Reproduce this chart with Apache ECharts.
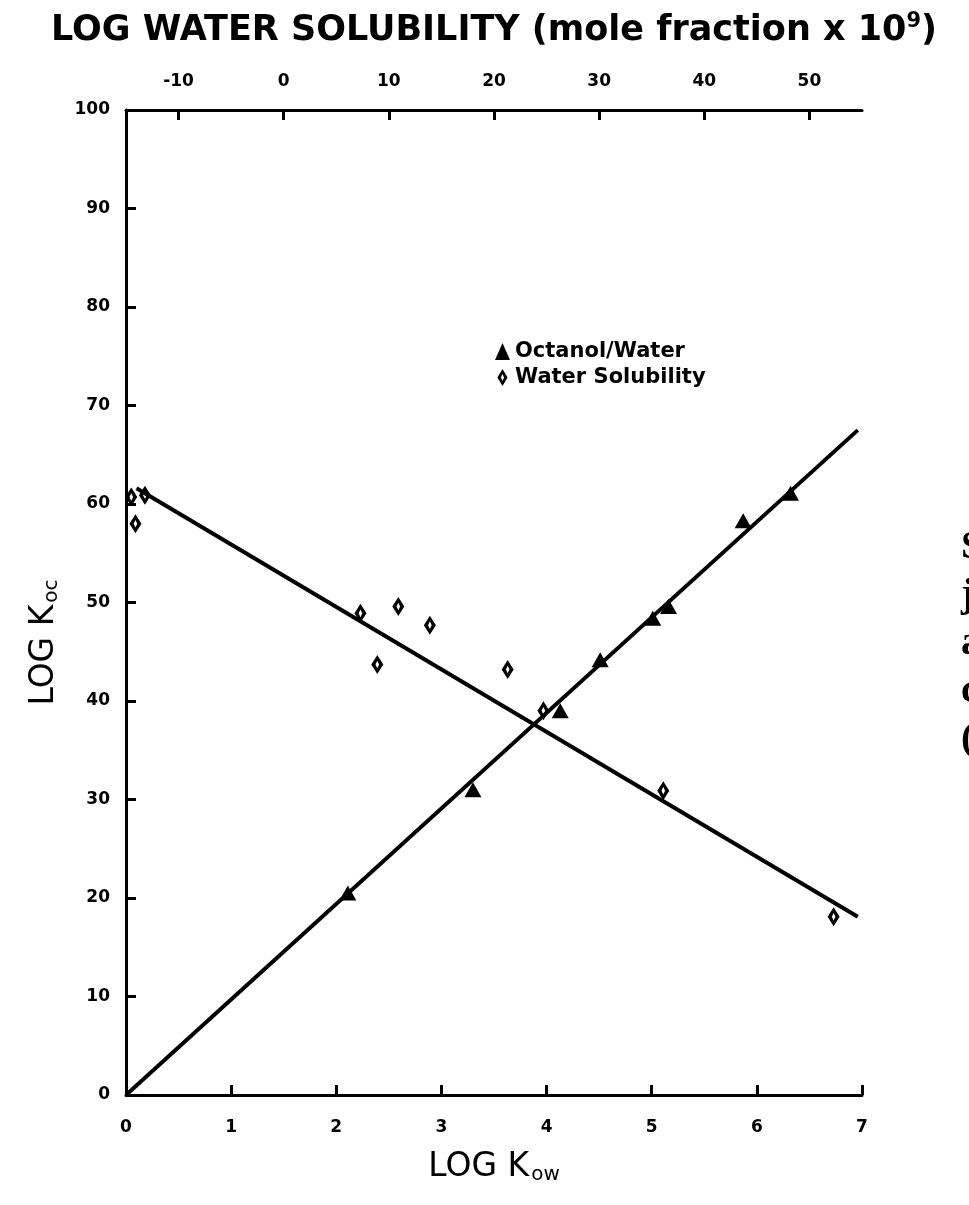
<!DOCTYPE html>
<html>
<head>
<meta charset="utf-8">
<script src="https://cdn.jsdelivr.net/npm/echarts@6/dist/echarts.min.js"></script>
<style>
  html, body { margin: 0; padding: 0; background: #fff; }
  #chart { width: 969px; height: 1205px; }
</style>
</head>
<body>
<div id="chart"></div>
<script>
// log Koc (x10) vs log Kow  -- filled triangles
const octanolPts = [[2.11, 20.5], [3.30, 31.0], [4.13, 39.0], [4.51, 44.2], [5.01, 48.4], [5.16, 49.6], [5.87, 58.3], [6.32, 61.1]];
// log Koc (x10) vs log water solubility (top axis units) -- open diamonds
const solubilityPts = [[-14.5, 60.7], [-13.2, 60.9], [-14.1, 58.0], [7.3, 48.9], [10.9, 49.6], [13.9, 47.7], [8.9, 43.7], [21.3, 43.2], [24.7, 39.0], [36.1, 30.9], [52.3, 18.1]];
// fitted lines
const octanolFit = [[0, 0], [6.96, 67.5]];
const solubilityFit = [[-14, 61.6], [54.6, 18.1]];
const solTicks = [-10, 0, 10, 20, 30, 40, 50];

const FONT = "DejaVu Sans";
const lbl = { color: "#000", fontFamily: FONT, fontWeight: "bold", fontSize: 17 };
// diamond with a hole, like the hand drawn marker
const ringDiamond = "path://M6,0 L12,10 L6,20 L0,10 Z M6,6 L4.2,10 L6,14 L7.8,10 Z";

let dom = echarts.init(document.getElementById("chart"));
let option = {
  backgroundColor: "#fff",
  animation: false,
  grid: { left: 126, right: 107, top: 110, bottom: 110 },
  legend: {
    orient: "vertical",
    left: 490,
    top: 336,
    itemGap: 5,
    itemWidth: 15,
    itemHeight: 17,
    textStyle: { color: "#000", fontFamily: FONT, fontWeight: "bold", fontSize: 21 },
    data: [
      { name: "Octanol/Water", icon: "triangle" },
      { name: "Water Solubility", icon: ringDiamond },
    ],
  },
  xAxis: [
    {
      type: "value",
      min: 0,
      max: 7,
      interval: 1,
      position: "bottom",
      name: "{a|LOG K}{b|ow}",
      nameLocation: "middle",
      nameGap: 54,
      nameTextStyle: {
        rich: {
          a: { fontFamily: FONT, fontSize: 33, color: "#000" },
          b: { fontFamily: FONT, fontSize: 20, color: "#000", padding: [16, 0, 0, 2] },
        },
      },
      axisLine: { lineStyle: { color: "#000", width: 3 } },
      axisTick: { inside: true, length: 10, lineStyle: { color: "#000", width: 3 } },
      axisLabel: Object.assign({ margin: 24 }, lbl),
      splitLine: { show: false },
    },
    {
      type: "value",
      min: -15,
      max: 55,
      position: "top",
      name: "{t|LOG WATER SOLUBILITY (mole fraction x 10}{s|9}{t|)}",
      nameLocation: "middle",
      nameGap: 60,
      nameTextStyle: {
        rich: {
          t: { fontFamily: FONT, fontWeight: "bold", fontSize: 35, color: "#000" },
          s: { fontFamily: FONT, fontWeight: "bold", fontSize: 21, color: "#000", padding: [0, 0, 18, 0] },
        },
      },
      axisLine: { lineStyle: { color: "#000", width: 3 } },
      axisTick: { inside: true, length: 10, customValues: solTicks, lineStyle: { color: "#000", width: 3 } },
      axisLabel: Object.assign({ margin: 20, customValues: solTicks }, lbl),
      splitLine: { show: false },
    },
  ],
  yAxis: {
    type: "value",
    min: 0,
    max: 100,
    interval: 10,
    name: "{a|LOG K}{b|oc}",
    nameLocation: "middle",
    nameRotate: 90,
    nameGap: 64,
    nameTextStyle: {
      padding: [0, 80, 0, 0],
      rich: {
        a: { fontFamily: FONT, fontSize: 33, color: "#000" },
        b: { fontFamily: FONT, fontSize: 20, color: "#000", padding: [16, 0, 0, 2] },
      },
    },
    axisLine: { lineStyle: { color: "#000", width: 3 } },
    axisTick: { inside: true, length: 10, lineStyle: { color: "#000", width: 3 } },
    axisLabel: Object.assign({ margin: 16 }, lbl),
    splitLine: { show: false },
  },
  graphic: [
    // cut-off text at the right page edge
    { type: "text", left: 961, top: 528, style: { text: "S", font: "bold 40px 'Liberation Serif'", fill: "#000" } },
    { type: "text", left: 961, top: 576, style: { text: "j", font: "bold 40px 'Liberation Serif'", fill: "#000" } },
    { type: "text", left: 961, top: 624, style: { text: "a", font: "bold 40px 'Liberation Serif'", fill: "#000" } },
    { type: "text", left: 961, top: 672, style: { text: "c", font: "bold 40px 'Liberation Serif'", fill: "#000" } },
    { type: "text", left: 961, top: 720, style: { text: "(", font: "bold 40px 'Liberation Serif'", fill: "#000" } },
  ],
  series: [
    {
      name: "Octanol/Water",
      type: "scatter",
      data: octanolPts,
      symbol: "triangle",
      symbolSize: [17, 15],
      itemStyle: { color: "#000", opacity: 1 },
      z: 5,
    },
    {
      name: "Water Solubility",
      type: "scatter",
      xAxisIndex: 1,
      data: solubilityPts,
      symbol: ringDiamond,
      symbolSize: [12, 19],
      itemStyle: { color: "#000", opacity: 1 },
      z: 5,
    },
    {
      name: "octanol fit",
      type: "line",
      data: octanolFit,
      symbol: "none",
      lineStyle: { color: "#000", width: 4 },
    },
    {
      name: "solubility fit",
      type: "line",
      xAxisIndex: 1,
      data: solubilityFit,
      symbol: "none",
      lineStyle: { color: "#000", width: 4 },
    },
  ],
};
dom.setOption(option);
</script>
</body>
</html>
